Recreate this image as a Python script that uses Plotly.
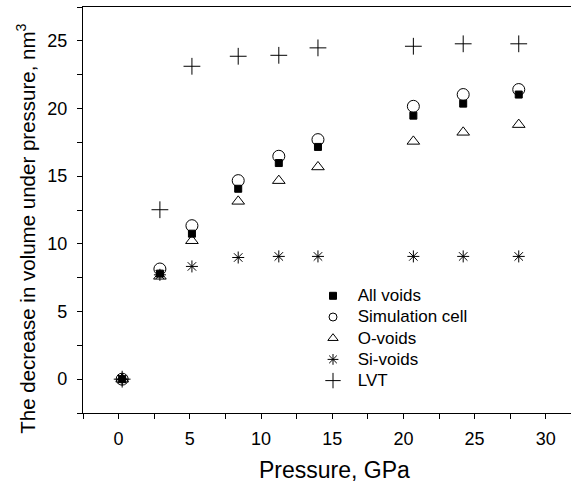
import plotly.graph_objects as go

pressure = [0.25, 2.9, 5.15, 8.4, 11.25, 14.0, 20.7, 24.2, 28.1]
all_voids = [0, 7.8, 10.75, 14.07, 15.97, 17.16, 19.47, 20.36, 21.03]
sim_cell = [0, 8.14, 11.34, 14.67, 16.47, 17.7, 20.16, 21.03, 21.4]
o_voids = [0, 7.6, 10.23, 13.14, 14.67, 15.68, 17.57, 18.24, 18.81]
si_voids = [0, 7.71, 8.33, 8.99, 9.07, 9.07, 9.07, 9.07, 9.07]
lvt = [0, 12.52, 23.12, 23.86, 23.93, 24.48, 24.6, 24.78, 24.78]

names = ["All voids", "Simulation cell", "O-voids", "Si-voids", "LVT"]
series = [all_voids, sim_cell, o_voids, si_voids, lvt]
symbols = ["square", "circle-open", "triangle-up-open", "asterisk-open", "cross-thin-open"]
sizes = [7, 12, 11, 10, 12]
leg_sizes = [7, 8, 9, 9, 11]

FONT = "Liberation Sans, Arial, Helvetica, sans-serif"
fig = go.Figure()
for name, ys, sym, sz in zip(names, series, symbols, sizes):
    fig.add_trace(go.Scatter(
        x=pressure, y=ys, mode="markers", name=name, showlegend=False,
        marker=dict(symbol=sym, size=sz, color="black",
                    line=dict(color="black", width=1)),
    ))
for name, sym, sz in zip(names, symbols, leg_sizes):
    fig.add_trace(go.Scatter(
        x=[None], y=[None], mode="markers", showlegend=True,
        name='<span style="font-size:17px">\u00a0' + name + '</span>',
        marker=dict(symbol=sym, size=sz, color="black",
                    line=dict(color="black", width=1)),
    ))

axis_common = dict(
    showgrid=False, zeroline=False, showline=True, linecolor="black", linewidth=1.2,
    ticks="outside", ticklen=5, tickwidth=1, tickcolor="black",
    tickfont=dict(family=FONT, size=18, color="black"),
    minor=dict(dtick=2.5, ticks="outside", ticklen=5, tickwidth=1, tickcolor="black"),
)
fig.update_xaxes(range=[-2.5, 31.77], dtick=5, tick0=0, mirror=True,
                 ticklabelstandoff=4, **axis_common)
fig.update_yaxes(range=[-2.5, 27.5], dtick=5, tick0=0, mirror=False,
                 ticklabelstandoff=6, **axis_common)

fig.add_annotation(text="Pressure, GPa", xref="paper", yref="paper",
                   x=(334 - 83) / 488, y=(413.3 - 470) / 406, showarrow=False,
                   xanchor="center", yanchor="middle",
                   font=dict(family=FONT, size=23, color="black"))
fig.add_annotation(text="The decrease in volume under pressure, nm<sup>3</sup>",
                   xref="paper", yref="paper", textangle=-90,
                   x=(26 - 83) / 488, y=(413.3 - 229) / 406, showarrow=False,
                   xanchor="center", yanchor="middle",
                   font=dict(family=FONT, size=20.5, color="black"))

fig.update_layout(
    width=571, height=484,
    margin=dict(l=83, r=0, t=7, b=71),
    paper_bgcolor="white", plot_bgcolor="white",
    legend=dict(x=(313 - 83) / 488, y=(413.3 - 280.5) / 406, xanchor="left", yanchor="top",
                bgcolor="rgba(0,0,0,0)", font=dict(family=FONT, size=14, color="black"),
                tracegroupgap=0),
)
fig.write_html("out.html")
